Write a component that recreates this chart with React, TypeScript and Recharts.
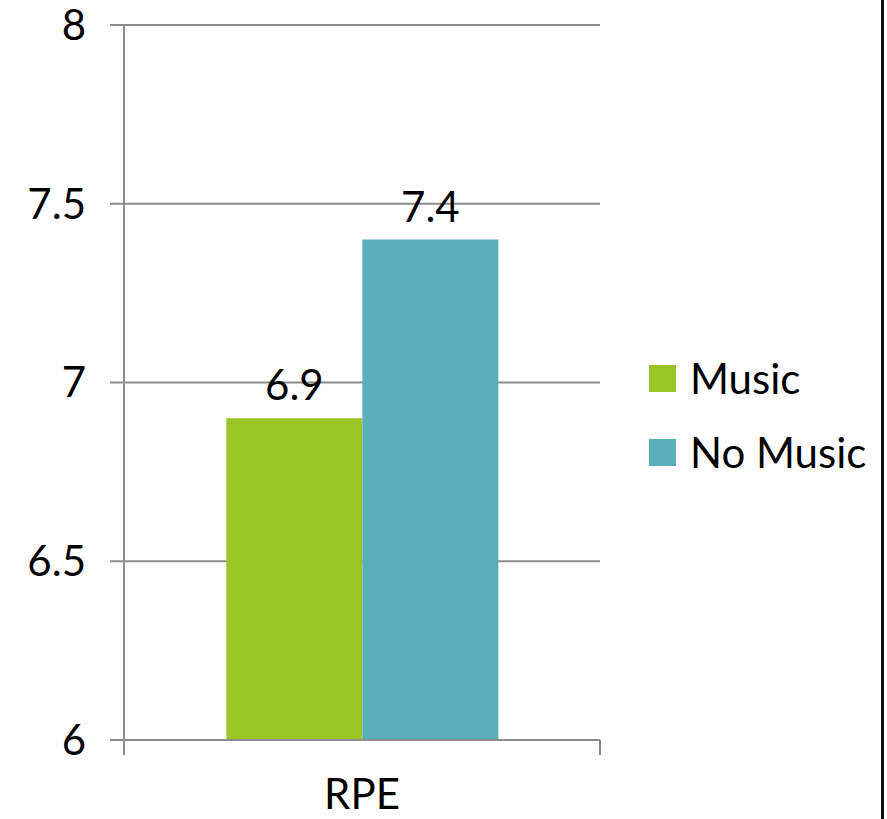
import React from 'react';
import { BarChart, Bar, XAxis, YAxis, CartesianGrid, Legend, LabelList } from 'recharts';

const categories = ['RPE'];
const musicValues = [6.9];
const noMusicValues = [7.4];
const yTicks = [6, 6.5, 7, 7.5, 8];

const data = categories.map((name, i) => ({
  name,
  music: musicValues[i],
  noMusic: noMusicValues[i],
}));

const FONT = 'Lato, "Open Sans", sans-serif';
const FS = 42;
const GRID = '#8c8c8c';
const X_TICK_SIZE = 15;
const X_TICK_MARGIN = 24;

// category label plus the short tick marks at both edges of the band
const CategoryTick = (props: any) => {
  const { x, y, payload } = props;
  const axisY = y - X_TICK_SIZE - X_TICK_MARGIN;
  const half = payload && payload.offset ? payload.offset : 0;
  return (
    <g>
      {half > 0 && (
        <>
          <line x1={x - half} x2={x - half} y1={axisY} y2={axisY + X_TICK_SIZE} stroke={GRID} strokeWidth={2} />
          <line x1={x + half} x2={x + half} y1={axisY} y2={axisY + X_TICK_SIZE} stroke={GRID} strokeWidth={2} />
        </>
      )}
      <text x={x} y={y} dy="0.71em" textAnchor="middle" fill="#000" fontSize={FS} fontFamily={FONT}>
        {payload.value}
      </text>
    </g>
  );
};

const renderLegend = (props: any) => {
  const { payload } = props;
  return (
    <div style={{ fontFamily: FONT, fontSize: FS, color: '#000' }}>
      {payload.map((entry: any) => (
        <div key={entry.value} style={{ display: 'flex', alignItems: 'center', height: 74, whiteSpace: 'nowrap' }}>
          <span style={{ width: 27, height: 27, background: entry.color, display: 'inline-block', marginRight: 14, flexShrink: 0 }} />
          <span>{entry.value}</span>
        </div>
      ))}
    </div>
  );
};

const App: React.FC = () => {
  return (
    <div style={{ position: 'absolute', top: 0, left: 0, width: 887, height: 819, background: '#fff', overflow: 'hidden' }}>
      <div style={{ position: 'absolute', left: 881, top: 0, width: 3, height: 819, background: '#111' }} />
      <BarChart
        width={887}
        height={819}
        data={data}
        margin={{ top: 25, right: 287, left: 0, bottom: 0 }}
        barCategoryGap="21.5%"
        barGap={0}
      >
        <CartesianGrid vertical={false} stroke={GRID} strokeWidth={2} />
        <XAxis
          dataKey="name"
          height={79}
          axisLine={{ stroke: GRID, strokeWidth: 2 }}
          tickLine={false}
          tickSize={X_TICK_SIZE}
          tickMargin={X_TICK_MARGIN}
          tick={<CategoryTick />}
        />
        <YAxis
          width={124}
          domain={[6, 8]}
          ticks={yTicks}
          tickSize={14}
          tickMargin={24}
          axisLine={{ stroke: GRID, strokeWidth: 2 }}
          tickLine={{ stroke: GRID, strokeWidth: 2 }}
          tick={{ fill: '#000', fontSize: FS, fontFamily: FONT }}
        />
        <Legend
          layout="vertical"
          align="center"
          verticalAlign="middle"
          content={renderLegend}
          wrapperStyle={{ left: 649, top: 341, width: 238 }}
        />
        <Bar dataKey="music" name="Music" fill="#99C624" isAnimationActive={false}>
          <LabelList dataKey="music" position="top" offset={18} fill="#000" fontSize={FS} fontFamily={FONT} />
        </Bar>
        <Bar dataKey="noMusic" name="No Music" fill="#5AB0B9" isAnimationActive={false}>
          <LabelList dataKey="noMusic" position="top" offset={18} fill="#000" fontSize={FS} fontFamily={FONT} />
        </Bar>
      </BarChart>
    </div>
  );
};

export default App;
